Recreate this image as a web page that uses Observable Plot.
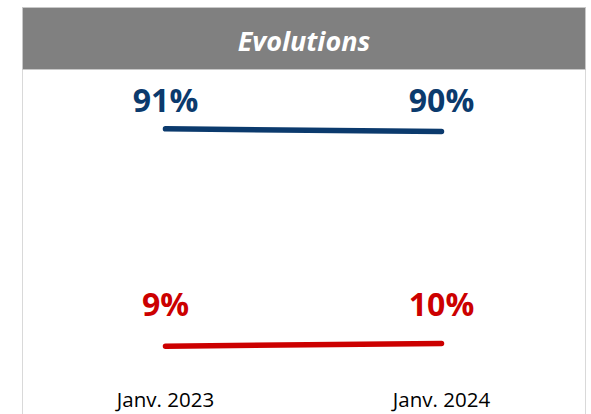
<!DOCTYPE html>
<html>
<head>
<meta charset="utf-8">
<script src="https://cdn.jsdelivr.net/npm/d3@7"></script>
<script src="https://cdn.jsdelivr.net/npm/@observablehq/plot@0.6"></script>
<style>
  html, body { margin: 0; padding: 0; background: #fff; }
  #wrap { position: relative; width: 591px; height: 414px; overflow: hidden; font-family: "Open Sans", sans-serif; }
  #header { position: absolute; left: 22px; top: 7px; width: 564px; height: 63px; background: #808080;
            box-sizing: border-box; border: 1px solid #c8c8c8; padding-top: 3px;
            color: #fff; font-weight: bold; font-style: italic; font-size: 27px;
            display: flex; align-items: center; justify-content: center; }
  #chart { position: absolute; left: 0; top: 70px; }
  #frame { position: absolute; left: 22px; top: 70px; width: 564px; height: 360px; box-sizing: border-box;
           border-left: 1px solid #d9d9d9; border-right: 1px solid #d9d9d9; pointer-events: none; }
</style>
</head>
<body>
<div id="wrap">
  <div id="header">Evolutions</div>
  <div id="chart"></div>
  <div id="frame"></div>
</div>
<script>
const periods = ["Janv. 2023", "Janv. 2024"];
const seriesA = [91, 90];
const seriesB = [9, 10];
const colorA = "#0b3a6d";
const colorB = "#cc0000";

const dataA = periods.map((p, i) => ({period: p, value: seriesA[i]}));
const dataB = periods.map((p, i) => ({period: p, value: seriesB[i]}));
const midA = d3.mean(seriesA);
const midB = d3.mean(seriesB);

const chart = Plot.plot({
  width: 591,
  height: 344,
  marginLeft: 165,
  marginRight: 150,
  marginTop: 34.5,
  marginBottom: 44.5,
  style: {fontFamily: "'Open Sans', sans-serif", background: "transparent"},
  x: {type: "point", domain: periods, padding: 0, label: null},
  y: {domain: [0, 100], axis: null},
  marks: [
    Plot.axisX({tickSize: 0, tickPadding: 22, fontSize: 20.5, label: null, fill: "#000"}),
    Plot.line(dataA, {x: "period", y: "value", stroke: colorA, strokeWidth: 5.5, strokeLinecap: "round"}),
    Plot.line(dataB, {x: "period", y: "value", stroke: colorB, strokeWidth: 5.5, strokeLinecap: "round"}),
    Plot.text(dataA, {x: "period", y: () => midA, text: d => d.value + "%", fill: colorA, fontSize: 32, fontWeight: "bold", lineAnchor: "bottom", dy: -18.5}),
    Plot.text(dataB, {x: "period", y: () => midB, text: d => d.value + "%", fill: colorB, fontSize: 32, fontWeight: "bold", lineAnchor: "bottom", dy: -28.5})
  ]
});
document.getElementById("chart").appendChild(chart);
</script>
</body>
</html>
